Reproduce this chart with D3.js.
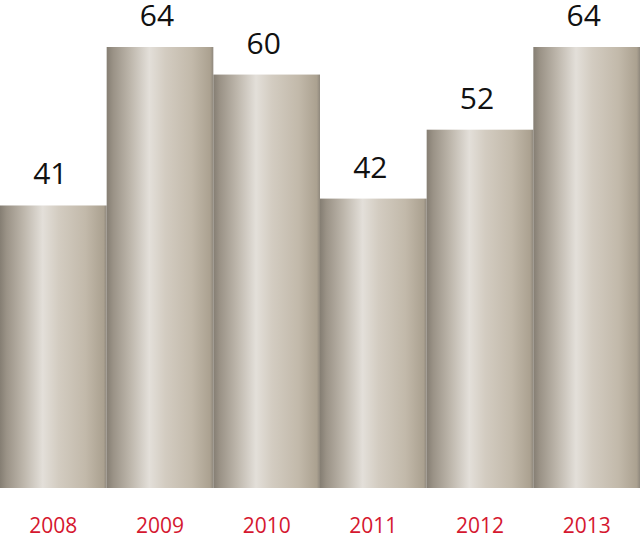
<!DOCTYPE html>
<html>
<head>
<meta charset="utf-8">
<script src="https://cdn.jsdelivr.net/npm/d3@7"></script>
<style>
  body { margin: 0; background: #fff; }
  svg { display: block; }
</style>
</head>
<body>
<div id="vizcontainer"></div>
<script>
const years = ['2008', '2009', '2010', '2011', '2012', '2013'],
  values = [41, 64, 60, 42, 52, 64];

const
  width = 640,
  height = 540,
  baseY = 488,
  topY = 47;

let svg = d3.select('#vizcontainer')
  .append('svg')
  .attr('width', width)
  .attr('height', height);

// metallic cylinder look
const grad = svg.append('defs').append('linearGradient')
  .attr('id', 'metal')
  .attr('x1', '0%').attr('x2', '100%')
  .attr('y1', '0%').attr('y2', '0%');
[
  [0, '#857e73'],
  [0.06, '#9a9286'],
  [0.22, '#bdb6ab'],
  [0.40, '#e3dfd9'],
  [0.55, '#d3ccc1'],
  [0.80, '#c2b9aa'],
  [0.97, '#aba190'],
  [1, '#8f887d']
].forEach(([o, c]) => grad.append('stop').attr('offset', o).attr('stop-color', c));

const x = d3.scaleBand()
  .domain(years)
  .range([0, width])
  .padding(0);

const y = d3.scaleLinear()
  .domain([0, 64])
  .range([baseY, topY]);

let viz = svg.append('g');

viz.selectAll('rect')
  .data(values)
  .join('rect')
  .attr('x', (d, i) => x(years[i]))
  .attr('y', d => y(d))
  .attr('width', x.bandwidth())
  .attr('height', d => y(0) - y(d))
  .attr('fill', 'url(#metal)');

viz.selectAll('text.val')
  .data(values)
  .join('text')
  .attr('class', 'val')
  .attr('x', (d, i) => x(years[i]) + x.bandwidth() / 2 - 3)
  .attr('y', d => y(d) - 21)
  .attr('text-anchor', 'middle')
  .attr('font-family', '"Open Sans", "Noto Sans", sans-serif')
  .attr('font-size', 30)
  .attr('fill', '#111')
  .text(d => d);

const xAxis = svg.append('g')
  .attr('transform', `translate(0,${baseY})`)
  .call(d3.axisBottom(x).tickSize(0).tickPadding(30));
xAxis.select('.domain').remove();
xAxis.selectAll('text')
  .attr('font-family', '"Open Sans", "Noto Sans", sans-serif')
  .attr('font-size', 21)
  .attr('fill', '#d5172f');
</script>
</body>
</html>
